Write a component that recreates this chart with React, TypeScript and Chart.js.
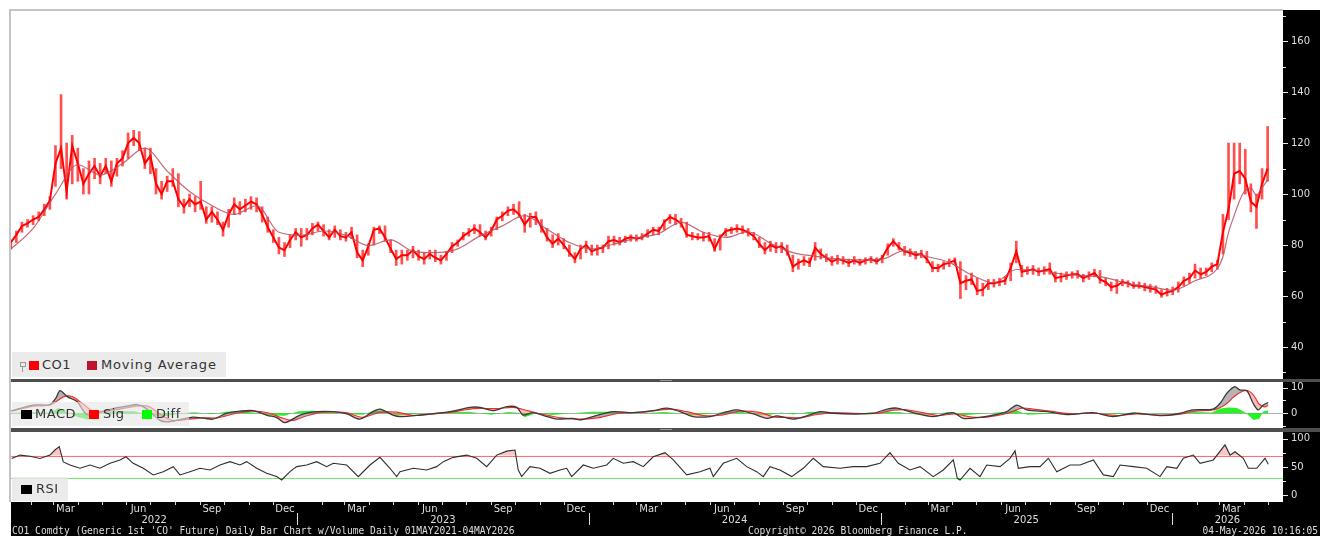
import React, { useEffect, useRef } from 'react';
import { Chart, registerables } from 'chart.js';

Chart.register(...registerables);

// ---------- weekly bars (week 0 = Fri 07-Jan-2022) ----------
const closes = [
  81, 84, 87.5, 88.5, 90, 91, 94, 97.5, 112, 118,
  101, 119, 112, 104, 108, 111, 107, 111, 105, 112,
  114, 120, 122, 120, 112, 115, 104, 100, 105, 105,
  98, 95, 98, 96, 97, 90, 93, 90, 86, 92,
  96, 94, 95.5, 97, 96, 92, 87, 83, 79, 78,
  82, 85, 83, 84, 86.5, 88, 85.5, 83, 86, 83.5,
  83, 85, 77, 74, 79.5, 86, 86.5, 83, 78.5, 74.5,
  76, 76, 78, 75.5, 74.5, 76.5, 75, 74, 76.5, 79.5,
  81, 83.5, 85, 86.5, 85, 83, 85.5, 90, 91.5, 93.5,
  94, 92, 88, 91, 91, 87, 83, 80.5, 82.5, 80,
  77, 74.5, 78.5, 80, 77.5, 78.5, 79, 81.5, 82, 81,
  82.5, 83, 82.5, 83, 84.5, 86, 85.5, 89, 91, 90,
  88.5, 84, 83.5, 83, 83, 83.5, 78.5, 83, 85.5, 86,
  86.5, 86, 85, 83.5, 80.5, 78, 80, 79, 79.5, 77.5,
  71.5, 73, 74, 73, 79, 76.5, 75, 73.5, 74.5, 74,
  73, 74, 73, 74, 74.5, 73.5, 75, 79, 81.5, 79,
  77.5, 77, 76, 76.5, 74.5, 71, 71, 72.5, 73, 74,
  65, 66, 66.5, 62, 62.5, 65, 65, 65.5, 66, 71,
  77.5, 69.5, 70, 70.5, 69.5, 70, 70.5, 67, 67.5, 68,
  68.5, 68.5, 67, 68, 69, 66.5, 65.5, 63.5, 64, 65.5,
  65, 64, 64, 63.5, 63, 62.5, 60.5, 61.5, 62, 63.5,
  66, 67, 70, 68.5, 69.5, 71.5, 72.5, 85, 94, 108,
  109, 106, 97, 95, 104, 110,
];
const highs = [
  82, 85.5, 89, 90, 91.5, 93, 96, 99, 119, 139,
  120, 123, 118, 110, 113, 114, 112, 114, 113, 114,
  117, 124, 125, 124.5, 118, 118, 110, 105, 107, 110,
  108, 98, 100, 99, 105, 95, 95, 93, 89, 94,
  98.5, 97, 98, 99, 98.5, 95, 91, 86, 83, 81,
  84, 86.5, 86.5, 86.5, 88.5, 89, 88, 86, 87.5, 86,
  85, 87, 84, 78, 80.5, 87, 87.5, 87.5, 82, 78,
  78, 78, 79.5, 78, 77, 78, 78, 76, 77.5, 81,
  82, 85, 86.5, 88, 88, 85.5, 87, 91, 93, 95,
  96, 97, 92, 92.5, 93, 90, 86.5, 84, 84.5, 82.5,
  80, 77, 80, 81.5, 80, 80, 80, 83.5, 83.5, 83,
  83.5, 84, 84, 84.5, 86, 87, 87, 90, 92, 92,
  90.5, 89, 85, 84.5, 85, 85, 82.5, 84, 86.5, 87,
  88, 87.5, 86.5, 85, 83, 81, 81.5, 81, 81, 80,
  76, 74.5, 75.5, 75, 81, 78.5, 76.5, 75.5, 76, 75.5,
  74.5, 75.5, 74.5, 75, 75.5, 75, 76, 80.5, 82.5, 81,
  79.5, 78.5, 77.5, 78, 77.5, 73.5, 72.5, 73.5, 74.5, 75,
  73.5, 68, 69, 67, 65, 66.5, 66.5, 67, 67.5, 73,
  81.5, 72, 71.5, 72, 71, 71.5, 73, 69.5, 69, 69.5,
  69.5, 70, 68.5, 69.5, 70.5, 70, 67, 65.5, 66.5, 66.5,
  66, 65.5, 65.5, 65, 64.5, 64, 62.5, 63, 63.5, 65.5,
  67.5, 69, 72.5, 71, 71, 73, 74, 92, 120, 120,
  120, 117.5, 104, 100, 110, 126.5,
];
const lows = [
  78.5, 81, 85, 87, 88, 89.5, 91.5, 94, 103, 110,
  98, 104, 105, 100, 100, 106, 104, 108, 103, 107,
  111, 114, 119, 117, 110, 108, 100, 98, 101, 103,
  95, 92.5, 95, 93, 94, 88.5, 89, 88, 83.5, 87,
  92, 92, 93, 94, 93, 89, 85, 81, 76.5, 75.5,
  79, 82, 79.5, 82, 84, 85.5, 83.5, 82, 83, 82,
  81.5, 82.5, 75, 71.5, 76, 80, 84.5, 81.5, 77, 72,
  72.5, 74, 75, 74, 72.5, 74.5, 73.5, 72.5, 74, 77,
  79.5, 82, 83.5, 84.5, 83.5, 82, 83.5, 86, 89.5, 91.5,
  92, 91, 85, 87, 88, 85, 81.5, 79, 80, 78.5,
  75.5, 73, 74.5, 77, 76, 76, 77, 78.5, 80, 80,
  81, 81.5, 81.5, 82, 83, 84, 84, 86, 88.5, 88,
  87, 83, 82, 82, 81.5, 81.5, 77.5, 78, 83.5, 84.5,
  85, 84.5, 83.5, 82, 79, 76.5, 77.5, 77, 77, 76,
  69.5, 70.5, 72, 71.5, 74, 74.5, 73.5, 72, 72.5, 72.5,
  71.5, 72.5, 72, 72.5, 73, 72.5, 73, 76, 79.5, 78,
  76, 75.5, 74.5, 75, 73, 69.5, 69.5, 70.5, 71.5, 72.5,
  59, 62.5, 64.5, 60.5, 60, 62.5, 63.5, 64, 64.5, 66,
  73, 67.5, 68.5, 68.5, 68, 68.5, 68.5, 65.5, 65.5, 66.5,
  67, 67, 65.5, 66.5, 67.5, 65, 64, 62, 61, 64,
  63.5, 63, 63, 62, 61.5, 61, 59.5, 60, 60.5, 61.5,
  64, 65, 67, 67, 68, 69.5, 70.5, 76.5, 90, 98,
  104, 100, 93, 86.5, 98, 105,
];

// ---------- moving average (week, value) ----------
const maWeeks = [0, 4, 8, 12, 16, 20, 24, 28, 32, 36, 40, 44, 48, 52, 56, 60, 64, 68, 72, 76, 80, 84, 88, 92, 96, 100, 104, 108, 112, 116, 120, 124, 128, 132, 136, 140, 144, 148, 152, 156, 160, 164, 168, 172, 176, 180, 184, 188, 192, 196, 200, 204, 208, 212, 216, 217, 218, 219, 220, 221, 222, 223, 224, 225];
const maValues = [78.4, 86.5, 100, 111.5, 107.5, 112, 118, 109, 101, 95.5, 92, 95.4, 85, 83.8, 85.5, 83.8, 79.8, 82, 77.6, 77, 78.5, 83.6, 87.5, 91.5, 86.2, 81, 78.5, 80.4, 82.8, 84.5, 88.9, 85, 83, 85.2, 80.7, 77, 75.6, 74.5, 74.2, 74.5, 77.8, 75.5, 73.2, 68.3, 65.2, 70.4, 70, 68.7, 68, 67.2, 64.8, 63.7, 62.3, 66, 70.8, 75.5, 85, 91.5, 97.5, 101.5, 102.3, 99.5, 102.5, 105.5];

// ---------- MACD ----------
const macdWeeks = [0.16, 4.0, 7.0, 8.1, 8.8, 10.1, 11.9, 13.6, 16.0, 18.3, 21.3, 22.6, 24.0, 26.7, 28.1, 30.3, 32.6, 34.8, 36.2, 38.7, 41.0, 43.4, 45.9, 47.7, 49.1, 51.8, 54.8, 57.7, 60.2, 62.5, 64.8, 66.1, 68.4, 69.7, 73.3, 78.6, 82.2, 84.0, 86.3, 88.8, 90.6, 91.7, 93.5, 96.0, 97.8, 100.6, 101.9, 104.2, 107.8, 111.4, 115.0, 117.5, 119.8, 122.1, 125.2, 128.2, 130.0, 133.0, 135.4, 137.2, 140.0, 142.5, 144.9, 147.2, 150.8, 154.4, 156.9, 158.6, 161.5, 165.1, 168.7, 170.5, 173.5, 176.5, 178.3, 180.1, 181.9, 185.5, 189.1, 193.7, 197.3, 200.9, 205.7, 208.8, 211.6, 215.2, 216.5, 217.7, 219.1, 220.0, 221.3, 222.4, 223.3, 224.2, 225.1];
const macdValues = [1.0, 3.2, 3.4, 6.0, 8.8, 6.5, 4.5, -0.5, 0.5, 1.8, 3.0, 3.4, 2.2, -2.8, -3.4, -2.5, -1.5, -2.0, -2.3, 0.0, 0.8, 1.0, -0.8, -1.8, -3.7, -0.7, 0.6, 0.6, -0.3, -2.3, 0.6, 1.6, -0.7, -1.3, -0.7, 0.6, 2.3, 2.3, 1.0, 2.6, 2.3, -0.7, 0.2, -1.3, -2.3, -2.0, -2.6, -1.3, 0.6, 0.2, 1.0, 2.0, 0.6, -1.3, -1.3, 0.6, 1.3, -0.3, -2.0, -1.0, -2.3, -1.0, 0.6, 0.0, -0.3, 0.0, 1.6, 2.0, 0.2, -1.3, 0.2, -2.0, -1.6, -0.5, 0.6, 3.2, 1.3, 0.6, -0.5, 0.2, -1.3, 0.0, -0.9, -0.3, 1.3, 1.6, 3.9, 7.8, 10.4, 9.1, 8.7, 3.9, 1.3, 3.2, 4.2];
const sigWeeks = [0.16, 4, 7, 9.5, 11, 13, 15, 18, 22, 24.5, 27.5, 29, 31, 34, 37, 40, 43, 46, 48.5, 50.5, 53, 56, 60, 63, 66, 69, 72, 78, 83, 87, 90, 92.5, 95, 98.5, 102, 105, 109, 113, 118, 121, 124, 127, 130.5, 134, 136.5, 139, 141.5, 144, 147.5, 155, 158, 160, 163, 166, 169, 172, 175, 178.5, 181, 183, 186, 190, 194, 198, 201.5, 206, 209, 212, 215.5, 217.5, 219, 220.5, 221.5, 222.5, 223.5, 224.5, 225.1];
const sigValues = [0.8, 2.8, 3.2, 6.5, 6.5, 3.5, 0.5, 1.0, 2.6, 2.8, -1.5, -2.8, -2.6, -1.8, -1.8, -0.2, 0.8, 0.2, -1.8, -2.8, -1.0, 0.4, 0.2, -1.6, 0.3, 0.4, -0.8, 0.2, 1.8, 1.8, 2.3, 1.0, -0.3, -1.8, -2.3, -1.8, 0.0, 0.4, 1.6, 0.6, -0.9, -0.8, 0.8, 0.3, -1.4, -1.6, -1.8, -0.6, 0.1, -0.1, 1.2, 1.4, 0.3, -0.9, -0.3, -1.5, -1.4, 0.0, 2.0, 1.6, 0.8, -0.2, 0.0, -0.9, -0.3, -0.7, -0.5, 0.8, 1.4, 3.5, 6.5, 8.6, 8.8, 7.0, 3.5, 2.5, 3.2];
const diffWeeks = [0.16, 4, 7, 8.5, 10, 12, 14, 16, 19, 22, 25, 27, 29, 31, 33, 36, 38.5, 41, 44, 46, 49, 51.5, 54, 58, 61, 63, 65, 67, 69, 72, 78, 82, 86, 89, 91, 92, 94, 97, 101, 104, 108, 112, 117, 120, 122, 125, 128.5, 131, 134, 136, 138, 140, 143, 146, 150, 157, 159, 162, 165, 168, 170.5, 174, 178, 180, 182, 186, 190, 194, 198, 201, 206, 209, 212, 215, 216.5, 218, 219.5, 221, 222.5, 223.5, 224.2, 225.1];
const diffValues = [0.2, 0.4, 0.2, 2.0, 0.5, -1.5, -2.5, 0, 0.8, 0.8, -0.6, -1.5, -0.6, 0.1, 0.4, -0.4, 0.6, 0.8, 0.2, -0.8, -1.0, 0.8, 1.0, 0.2, -0.5, -0.6, 1.0, 0.8, -0.9, -0.3, 0.4, 0.6, -0.6, 0.5, 0.2, -1.6, 0.0, -0.7, 0.1, 0.6, 0.6, -0.1, 0.5, 0.0, -0.8, -0.3, 0.7, 0.5, -0.6, -0.6, 0.3, -0.5, 0.6, 0.4, -0.1, 0.5, 0.5, -0.5, -0.4, 0.5, -0.8, -0.2, 0.6, 1.2, -0.6, -0.2, -0.2, 0.2, -0.4, 0.3, -0.2, 0.2, 0.5, 0.3, 1.8, 2.2, 2.0, 0.3, -2.6, -2.2, 0.7, 1.2];

// ---------- RSI ----------
const rsiWeeks = [0.16, 1.65, 3.44, 5.23, 7.02, 7.91, 8.68, 9.40, 10.60, 12.39, 14.18, 15.97, 17.76, 19.55, 20.62, 21.93, 23.72, 25.51, 27.30, 29.09, 30.29, 32.08, 33.87, 35.66, 37.45, 39.24, 41.03, 42.23, 44.02, 45.81, 47.60, 48.50, 49.98, 51.18, 52.97, 54.76, 56.55, 57.73, 60.13, 62.21, 64.30, 66.09, 67.88, 69.08, 69.67, 72.06, 74.45, 76.24, 77.43, 79.22, 81.62, 83.41, 85.20, 86.99, 88.78, 90.26, 90.85, 91.46, 92.95, 94.74, 96.53, 98.32, 99.52, 100.41, 102.49, 104.28, 106.68, 107.86, 109.65, 111.44, 113.23, 115.02, 117.12, 118.6, 121.0, 123.38, 125.17, 125.76, 127.55, 129.95, 131.74, 133.53, 134.71, 135.91, 137.70, 139.79, 141.87, 143.66, 145.45, 148.44, 150.82, 153.22, 155.60, 157.39, 158.88, 160.98, 162.77, 165.15, 166.94, 168.73, 169.45, 169.93, 171.72, 173.51, 174.71, 177.10, 178.89, 179.78, 180.37, 182.47, 184.26, 185.74, 187.25, 189.63, 191.42, 193.80, 195.59, 197.38, 198.58, 200.96, 203.36, 205.74, 206.94, 208.73, 209.91, 211.70, 212.90, 215.28, 217.37, 218.27, 219.16, 220.65, 221.54, 223.05, 224.53, 225.12];
const rsiValues = [65, 71, 69, 65, 71, 80, 86, 59, 53.5, 47.7, 53.5, 47.7, 56.5, 62.4, 68, 56.5, 47.7, 36, 41.7, 50.6, 36, 41.7, 47.7, 44.7, 53.5, 59.4, 53.5, 59.4, 47.7, 38.8, 33, 27, 41.7, 50.6, 53.5, 59.4, 50.6, 56.5, 53.5, 33, 53.5, 67, 47.7, 33, 41.7, 47.7, 44.7, 50.6, 59.4, 67, 71, 65.3, 50.6, 71, 78, 80, 44.7, 33, 50.6, 47.7, 38.8, 44.7, 47.7, 33, 53.5, 47.7, 53.5, 65.3, 56.5, 59.4, 50.6, 68, 75.3, 62.4, 36, 41.7, 47.7, 33, 56.5, 65.3, 50.6, 41.7, 33, 50.6, 44.7, 33, 47.7, 65.3, 50.6, 47.7, 50.6, 50.6, 56.5, 75.3, 56.5, 44.7, 50.6, 33, 44.7, 62.4, 30, 27, 47.7, 33, 53.5, 50.6, 65.3, 78.8, 47.7, 50.6, 50.6, 65.3, 41.7, 53.5, 53.5, 62.4, 36, 33, 53.5, 50.6, 47.7, 33, 50.6, 47.7, 65.3, 71, 56.5, 62.4, 89, 71, 77, 65.3, 47.7, 47.7, 65.3, 54.7];

// ---------- axis labels ----------
const priceMajorTicks = [40, 60, 80, 100, 120, 140, 160];
const priceMinorTicks = [30, 50, 70, 90, 110, 130, 150, 170];
const macdMajorTicks = [0, 10];
const macdMinorTicks = [-5, 5];
const rsiMajorTicks = [0, 50, 100];
const rsiMinorTicks = [25, 75];
const quarterMonthNames = ['Mar', 'Jun', 'Sep', 'Dec'];
const quarterMonths = [3, 6, 9, 12];
const axisYears = [2022, 2023, 2024, 2025, 2026];

const X_MIN = 0.04;
const X_MAX = 227.75;
const FIRST_BAR = Date.UTC(2022, 0, 7);
const weekOf = (y: number, m: number, d: number) => (Date.UTC(y, m - 1, d) - FIRST_BAR) / 86400000 / 7;

const CANVAS_W = 1309;
const AXIS_W = 37;
const LABEL_COLOR = '#dedede';

const pts = (xs: number[], ys: number[]) => xs.map((x, i) => ({ x, y: ys[i] }));

const paneBg = {
  id: 'paneBg',
  beforeDraw(chart: any) {
    const { ctx, chartArea: a } = chart;
    ctx.save();
    ctx.fillStyle = '#ffffff';
    ctx.fillRect(a.left, a.top, a.right - a.left, a.bottom - a.top);
    ctx.restore();
  },
};

const axisMarks = (majors: number[], minors: number[]) => ({
  id: 'axisMarks',
  afterDraw(chart: any) {
    const { ctx } = chart;
    const ys = chart.scales.y;
    const x0 = chart.chartArea.right;
    ctx.save();
    ctx.strokeStyle = '#e8e8e8';
    ctx.lineWidth = 1;
    const mark = (v: number, len: number) => {
      const py = Math.round(ys.getPixelForValue(v)) + 0.5;
      ctx.beginPath();
      ctx.moveTo(x0, py);
      ctx.lineTo(x0 + len, py);
      ctx.stroke();
    };
    majors.forEach((v) => mark(v, 5));
    minors.forEach((v) => mark(v, 3));
    ctx.restore();
  },
});

const refLines = (lines: { value: number; color: string }[]) => ({
  id: 'refLines',
  beforeDatasetsDraw(chart: any) {
    const { ctx, chartArea: a } = chart;
    const ys = chart.scales.y;
    ctx.save();
    ctx.lineWidth = 1;
    lines.forEach((l) => {
      const py = Math.round(ys.getPixelForValue(l.value)) + 0.5;
      ctx.strokeStyle = l.color;
      ctx.beginPath();
      ctx.moveTo(a.left, py);
      ctx.lineTo(a.right, py);
      ctx.stroke();
    });
    ctx.restore();
  },
});

const timeAxis = {
  id: 'timeAxis',
  afterDraw(chart: any) {
    const { ctx, chartArea: a } = chart;
    const xs = chart.scales.x;
    const top = a.bottom;
    const inRange = (w: number) => w >= X_MIN && w <= X_MAX;
    ctx.save();
    ctx.strokeStyle = '#d8d8d8';
    ctx.fillStyle = LABEL_COLOR;
    ctx.lineWidth = 1;
    ctx.font = '10px "DejaVu Sans"';
    ctx.textAlign = 'center';
    ctx.textBaseline = 'middle';
    axisYears.forEach((y) => {
      for (let m = 1; m <= 12; m++) {
        const w = weekOf(y, m, 1);
        if (inRange(w) && m !== 1) {
          const px = Math.round(xs.getPixelForValue(w)) + 0.5;
          ctx.beginPath();
          ctx.moveTo(px, top);
          ctx.lineTo(px, top + 3);
          ctx.stroke();
        }
      }
      quarterMonths.forEach((m, k) => {
        const w0 = weekOf(y, m, 1);
        const w1 = m === 12 ? weekOf(y + 1, 1, 1) : weekOf(y, m + 1, 1);
        const mid = (w0 + w1) / 2;
        if (inRange(mid)) ctx.fillText(quarterMonthNames[k], xs.getPixelForValue(mid), top + 7);
      });
      const ys0 = weekOf(y, 1, 1);
      const ys1 = weekOf(y + 1, 1, 1);
      if (inRange(ys0)) {
        const px = Math.round(xs.getPixelForValue(ys0)) + 0.5;
        ctx.beginPath();
        ctx.moveTo(px, top + 11);
        ctx.lineTo(px, top + 23);
        ctx.stroke();
      }
      const c = (Math.max(ys0, X_MIN) + Math.min(ys1, X_MAX)) / 2;
      ctx.fillText(String(y), xs.getPixelForValue(c), top + 18);
    });
    ctx.restore();
  },
};

const yAxis = (min: number, max: number, majors: number[]) => ({
  position: 'right',
  min,
  max,
  grid: { display: false, drawTicks: false },
  border: { display: false },
  afterBuildTicks: (s: any) => {
    s.ticks = majors.map((v) => ({ value: v }));
  },
  afterFit: (s: any) => {
    s.width = AXIS_W;
    s.paddingTop = 0;
    s.paddingBottom = 0;
  },
  ticks: {
    color: LABEL_COLOR,
    padding: 8,
    font: { family: 'DejaVu Sans', size: 10 },
    callback: (v: any) => String(v),
  },
});

const xAxis = { type: 'linear', min: X_MIN, max: X_MAX, display: false, offset: false };

const baseOptions = {
  responsive: false,
  animation: false,
  devicePixelRatio: 1,
  events: [],
  plugins: { legend: { display: false }, tooltip: { enabled: false } },
};

function ChartCanvas({ make, width, height, left, top }: any) {
  const ref = useRef<HTMLCanvasElement>(null);
  useEffect(() => {
    const c = new Chart(ref.current as HTMLCanvasElement, make());
    return () => c.destroy();
  }, []);
  return <canvas ref={ref} width={width} height={height} style={{ position: 'absolute', left, top, width, height }} />;
}

const makeMain = (): any => ({
  type: 'bar',
  data: {
    datasets: [
      {
        type: 'line',
        data: pts(maWeeks, maValues),
        borderColor: 'rgba(185,80,100,0.85)',
        borderWidth: 1.2,
        pointRadius: 0,
        cubicInterpolationMode: 'monotone',
        order: 0,
      },
      {
        type: 'line',
        data: closes.map((c, i) => ({ x: i, y: c })),
        borderColor: '#ff0000',
        borderWidth: 2,
        pointRadius: 0,
        tension: 0,
        order: 1,
      },
      {
        type: 'bar',
        data: closes.map((_, i) => ({ x: i, y: [lows[i], highs[i]] })),
        backgroundColor: 'rgba(255,20,20,0.75)',
        barThickness: 2,
        order: 2,
      },
    ],
  },
  options: {
    ...baseOptions,
    layout: { padding: 0 },
    scales: { x: xAxis, y: yAxis(27.45, 171.8, priceMajorTicks) },
  },
  plugins: [paneBg, axisMarks(priceMajorTicks, priceMinorTicks)],
});

const makeMacd = (): any => ({
  type: 'line',
  data: {
    datasets: [
      {
        data: pts(macdWeeks, macdValues),
        borderColor: '#3a3a3a',
        borderWidth: 1.3,
        pointRadius: 0,
        tension: 0.3,
        fill: { target: 1, above: 'rgba(120,120,120,0.55)', below: 'rgba(255,110,110,0.45)' },
        order: 0,
      },
      {
        data: pts(sigWeeks, sigValues),
        borderColor: '#ff2020',
        borderWidth: 1.2,
        pointRadius: 0,
        tension: 0.3,
        fill: false,
        order: 1,
      },
      {
        data: pts(diffWeeks, diffValues),
        borderWidth: 0,
        backgroundColor: 'rgba(0,240,0,0.85)',
        pointRadius: 0,
        tension: 0,
        fill: 'origin',
        order: 2,
      },
    ],
  },
  options: {
    ...baseOptions,
    layout: { padding: 0 },
    scales: { x: xAxis, y: yAxis(-5.77, 12.2, macdMajorTicks) },
  },
  plugins: [paneBg, refLines([{ value: 0, color: '#b0b0b0' }]), axisMarks(macdMajorTicks, macdMinorTicks)],
});

const makeRsi = (): any => ({
  type: 'line',
  data: {
    datasets: [
      {
        data: pts(rsiWeeks, rsiValues),
        borderColor: '#2e2e2e',
        borderWidth: 1.1,
        pointRadius: 0,
        tension: 0,
        fill: { target: { value: 70 }, above: 'rgba(255,60,60,0.3)', below: 'rgba(0,0,0,0)' },
        order: 0,
      },
      {
        data: pts(rsiWeeks, rsiValues),
        borderWidth: 0,
        borderColor: 'rgba(0,0,0,0)',
        pointRadius: 0,
        tension: 0,
        fill: { target: { value: 30 }, above: 'rgba(0,0,0,0)', below: 'rgba(0,230,0,0.35)' },
        order: 1,
      },
    ],
  },
  options: {
    ...baseOptions,
    layout: { padding: { left: 0, right: 0, top: 0, bottom: 34 } },
    scales: { x: xAxis, y: yAxis(-11.88, 111.8, rsiMajorTicks) },
  },
  plugins: [
    paneBg,
    refLines([
      { value: 70, color: '#ff7070' },
      { value: 30, color: '#70ee70' },
    ]),
    axisMarks(rsiMajorTicks, rsiMinorTicks),
    timeAxis,
  ],
});

const abs = (s: any): any => ({ position: 'absolute', ...s });
const legendFont = { fontFamily: '"DejaVu Sans", sans-serif', fontSize: 13, color: '#333', letterSpacing: '0.5px', lineHeight: '16px', whiteSpace: 'nowrap' };
const footFont = { fontFamily: '"DejaVu Sans Mono", monospace', fontSize: 9.6, color: LABEL_COLOR, lineHeight: '11px', whiteSpace: 'nowrap' };

export default function App() {
  return (
    <div style={abs({ left: 0, top: 0, width: 1324, height: 536, background: '#ffffff', overflow: 'hidden' })}>
      <div style={abs({ left: 11, top: 10, width: 1309, height: 526, background: '#000000' })} />
      <ChartCanvas make={makeMain} width={CANVAS_W} height={368} left={11} top={11} />
      <ChartCanvas make={makeMacd} width={CANVAS_W} height={46} left={11} top={382} />
      <ChartCanvas make={makeRsi} width={CANVAS_W} height={104} left={11} top={432} />

      {/* frame */}
      <div style={abs({ left: 9, top: 9, width: 1274, height: 2, background: '#c4c4c4' })} />
      <div style={abs({ left: 9, top: 9, width: 2, height: 493, background: '#c4c4c4' })} />

      {/* panel separators */}
      <div style={abs({ left: 11, top: 379, width: 1309, height: 3, background: '#4e4e4e' })} />
      <div style={abs({ left: 660, top: 380, width: 12, height: 1, background: '#9a9a9a' })} />
      <div style={abs({ left: 11, top: 428, width: 1309, height: 4, background: '#4e4e4e' })} />
      <div style={abs({ left: 660, top: 429, width: 12, height: 1, background: '#9a9a9a' })} />

      {/* main legend */}
      <div style={abs({ left: 12, top: 352, width: 214, height: 25, background: '#ebebeb' })}>
        <div style={abs({ left: 8, top: 10, width: 4, height: 3, border: '1px solid #9a9a9a' })} />
        <div style={abs({ left: 10, top: 14, width: 1, height: 6, background: '#9a9a9a' })} />
        <div style={abs({ left: 17, top: 9, width: 10, height: 9, background: '#ff0000' })} />
        <div style={abs({ left: 30, top: 5, ...legendFont })}>CO1</div>
        <div style={abs({ left: 75, top: 9, width: 10, height: 9, background: '#c0142e' })} />
        <div style={abs({ left: 89, top: 5, ...legendFont, letterSpacing: '0.8px' })}>Moving Average</div>
      </div>

      {/* MACD legend */}
      <div style={abs({ left: 12, top: 402, width: 177, height: 24, background: 'rgba(228,228,228,0.6)' })}>
        <div style={abs({ left: 9, top: 8, width: 11, height: 9, background: '#000000' })} />
        <div style={abs({ left: 23, top: 4, ...legendFont })}>MACD</div>
        <div style={abs({ left: 77, top: 8, width: 10, height: 9, background: '#ff0000' })} />
        <div style={abs({ left: 91, top: 4, ...legendFont })}>Sig</div>
        <div style={abs({ left: 130, top: 8, width: 10, height: 9, background: '#00ff00' })} />
        <div style={abs({ left: 144, top: 4, ...legendFont })}>Diff</div>
      </div>

      {/* RSI legend */}
      <div style={abs({ left: 12, top: 477, width: 56, height: 24, background: 'rgba(232,232,232,0.85)' })}>
        <div style={abs({ left: 9, top: 8, width: 11, height: 9, background: '#000000' })} />
        <div style={abs({ left: 24, top: 4, ...legendFont })}>RSI</div>
      </div>

      {/* footer */}
      <div style={abs({ left: 12, top: 525, ...footFont })}>CO1 Comdty (Generic 1st 'CO' Future) Daily Bar Chart w/Volume Daily 01MAY2021-04MAY2026</div>
      <div style={abs({ left: 748, top: 525, ...footFont })}>Copyright© 2026 Bloomberg Finance L.P.</div>
      <div style={abs({ left: 1198, top: 525, width: 120, textAlign: 'right', ...footFont })}>04-May-2026 10:16:05</div>
    </div>
  );
}
